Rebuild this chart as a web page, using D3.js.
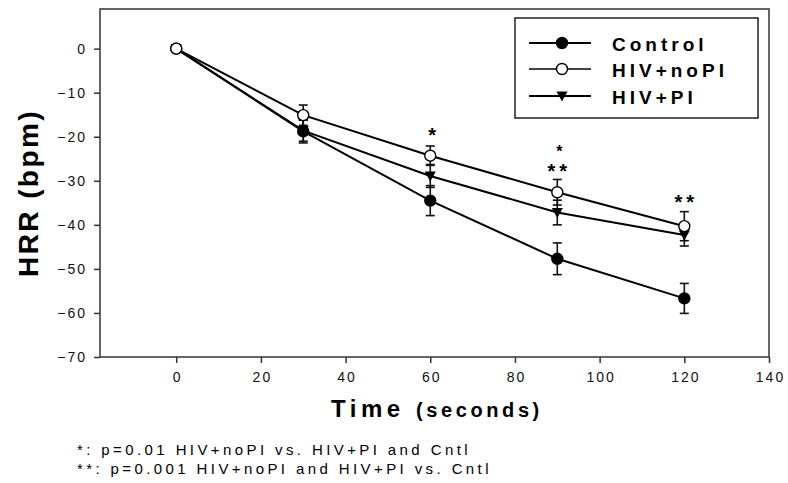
<!DOCTYPE html>
<html>
<head>
<meta charset="utf-8">
<script src="https://cdn.jsdelivr.net/npm/d3@7"></script>
<style>
  body { margin: 0; background: #fff; }
  svg { font-family: "Liberation Sans", Arial, sans-serif; }
</style>
</head>
<body>
<svg width="788" height="483"></svg>
<script>
// data
let times = [0, 30, 60, 90, 120];
let controlMean = [0, -18.8, -34.5, -47.7, -56.7];
let controlErr  = [0.4, 2.6, 3.4, 3.6, 3.4];
let noPIMean = [0, -15.1, -24.3, -32.6, -40.3];
let noPIErr  = [0.4, 2.3, 2.2, 2.9, 3.3];
let piMean = [0, -18.6, -28.9, -37.2, -42.3];
let piErr  = [0.4, 2.4, 2.6, 2.8, 2.5];

let seriesNames = ['Control', 'HIV+noPI', 'HIV+PI'];
let xTicks = [0, 20, 40, 60, 80, 100, 120, 140];
let yTicks = [0, -10, -20, -30, -40, -50, -60, -70];

// significance marks: time, lines of stars, y level (data units) of each line
let sigTimes = [60, 90, 120];
let sigMarks = [['*'], ['*', '**'], ['**']];
let sigLevel = [[-18.6], [-22.5, -26.8], [-33.9]];

let footnotes = [
  '*: p=0.01 HIV+noPI vs. HIV+PI and Cntl',
  '**: p=0.001 HIV+noPI and HIV+PI vs. Cntl'
];

let svg = d3.select('svg');
let plotLeft = 100, plotTop = 9, plotRight = 769, plotBottom = 357;

let x = d3.scaleLinear().domain([-18, 140]).range([plotLeft, plotRight]);
let y = d3.scaleLinear().domain([-70, 9]).range([plotBottom, plotTop]);

// frame
svg.append('rect')
   .attr('x', plotLeft).attr('y', plotTop)
   .attr('width', plotRight - plotLeft).attr('height', plotBottom - plotTop)
   .attr('fill', 'none').attr('stroke', '#333').attr('stroke-width', 1.5);

let fmt = d => d < 0 ? '\u2212' + Math.abs(d) : String(d);

let xAxis = svg.append('g')
   .attr('transform', `translate(0,${plotBottom})`)
   .call(d3.axisBottom(x).tickValues(xTicks).tickSize(6).tickPadding(9).tickFormat(fmt));
let yAxis = svg.append('g')
   .attr('transform', `translate(${plotLeft},0)`)
   .call(d3.axisLeft(y).tickValues(yTicks).tickSize(6).tickPadding(7).tickFormat(fmt));

[xAxis, yAxis].forEach(a => {
  a.select('.domain').remove();
  a.selectAll('line').attr('stroke', '#333').attr('stroke-width', 1.5);
  a.selectAll('text')
   .attr('font-size', 14).attr('fill', '#111')
   .attr('font-family', '"Liberation Sans", Arial, sans-serif')
   .style('letter-spacing', '2px');
});
xAxis.selectAll('text').attr('dx', '1px');

let series = [
  {name: seriesNames[0], mean: controlMean, err: controlErr, shape: 'fill'},
  {name: seriesNames[1], mean: noPIMean, err: noPIErr, shape: 'open'},
  {name: seriesNames[2], mean: piMean, err: piErr, shape: 'tri'}
];

let line = d3.line().x((d, i) => x(times[i])).y(d => y(d));

series.forEach(s => {
  svg.append('path')
     .attr('d', line(s.mean))
     .attr('fill', 'none').attr('stroke', '#000').attr('stroke-width', 2);
});

// error bars
series.forEach(s => {
  let g = svg.append('g').attr('stroke', '#111').attr('stroke-width', 1.6);
  s.mean.forEach((m, i) => {
    if (i === 0) return;
    let cx = x(times[i]);
    let lo = y(m - s.err[i]), hi = y(m + s.err[i]);
    g.append('line').attr('x1', cx).attr('x2', cx).attr('y1', lo).attr('y2', hi);
    g.append('line').attr('x1', cx - 4.5).attr('x2', cx + 4.5).attr('y1', lo).attr('y2', lo);
    g.append('line').attr('x1', cx - 4.5).attr('x2', cx + 4.5).attr('y1', hi).attr('y2', hi);
  });
});

function marker(g, shape, cx, cy) {
  if (shape === 'tri') {
    g.append('path')
     .attr('d', `M${cx - 5.5},${cy - 4.5}L${cx + 5.5},${cy - 4.5}L${cx},${cy + 5.5}Z`)
     .attr('fill', '#000');
  } else {
    g.append('circle').attr('cx', cx).attr('cy', cy).attr('r', 5.5)
     .attr('fill', shape === 'fill' ? '#000' : '#fff')
     .attr('stroke', '#000').attr('stroke-width', 1.4);
  }
}

// draw open circles last so they sit on top like the original
[series[0], series[2], series[1]].forEach(s => {
  let g = svg.append('g');
  s.mean.forEach((m, i) => marker(g, s.shape, x(times[i]), y(m)));
});

// significance stars, one text per time point
sigTimes.forEach((t, i) => {
  let txt = svg.append('text')
     .attr('text-anchor', 'middle')
     .attr('font-weight', 'bold');
  sigMarks[i].forEach((m, j) => {
    let single = sigMarks[i].length > 1 && m === '*';
    txt.append('tspan')
       .attr('x', x(t) + 2)
       .attr('y', y(sigLevel[i][j]) + (single ? 9 : 11.5))
       .attr('font-size', single ? 16 : 20)
       .style('letter-spacing', m.length > 1 ? '4px' : '0px')
       .text(m);
  });
});

// legend
let legendY = [43, 69, 96];
let lg = svg.append('g');
lg.append('rect')
  .attr('x', 515).attr('y', 18).attr('width', 243).attr('height', 100)
  .attr('fill', '#fff').attr('stroke', '#222').attr('stroke-width', 1.5);
series.forEach((s, i) => {
  let ly = legendY[i];
  lg.append('line').attr('x1', 529).attr('x2', 591).attr('y1', ly).attr('y2', ly)
    .attr('stroke', '#000').attr('stroke-width', s.shape === 'open' ? 1.4 : 2);
  marker(lg, s.shape, 562, ly);
  lg.append('text')
    .attr('x', 612).attr('y', ly + 8)
    .attr('font-size', 19).attr('font-weight', 'bold')
    .style('letter-spacing', '4px')
    .text(s.name);
});

// axis titles
svg.append('text')
   .attr('transform', 'translate(38,193) rotate(-90)')
   .attr('text-anchor', 'middle')
   .attr('font-size', 28).attr('font-weight', 'bold')
   .style('letter-spacing', '2.4px')
   .text('HRR (bpm)');

let xt = svg.append('text')
   .attr('y', 417)
   .attr('font-weight', 'bold');
xt.append('tspan').attr('x', 331).attr('font-size', 24).style('letter-spacing', '4.5px').text('Time');
xt.append('tspan').attr('x', 416).attr('font-size', 20).style('letter-spacing', '3.6px').text('(seconds)');

// footnotes
svg.selectAll('text.foot')
   .data(footnotes)
   .enter()
   .append('text')
   .attr('class', 'foot')
   .attr('x', 77)
   .attr('y', (d, i) => 455 + i * 19)
   .attr('font-size', 15)
   .style('letter-spacing', '3.4px')
   .text(d => d);
</script>
</body>
</html>
